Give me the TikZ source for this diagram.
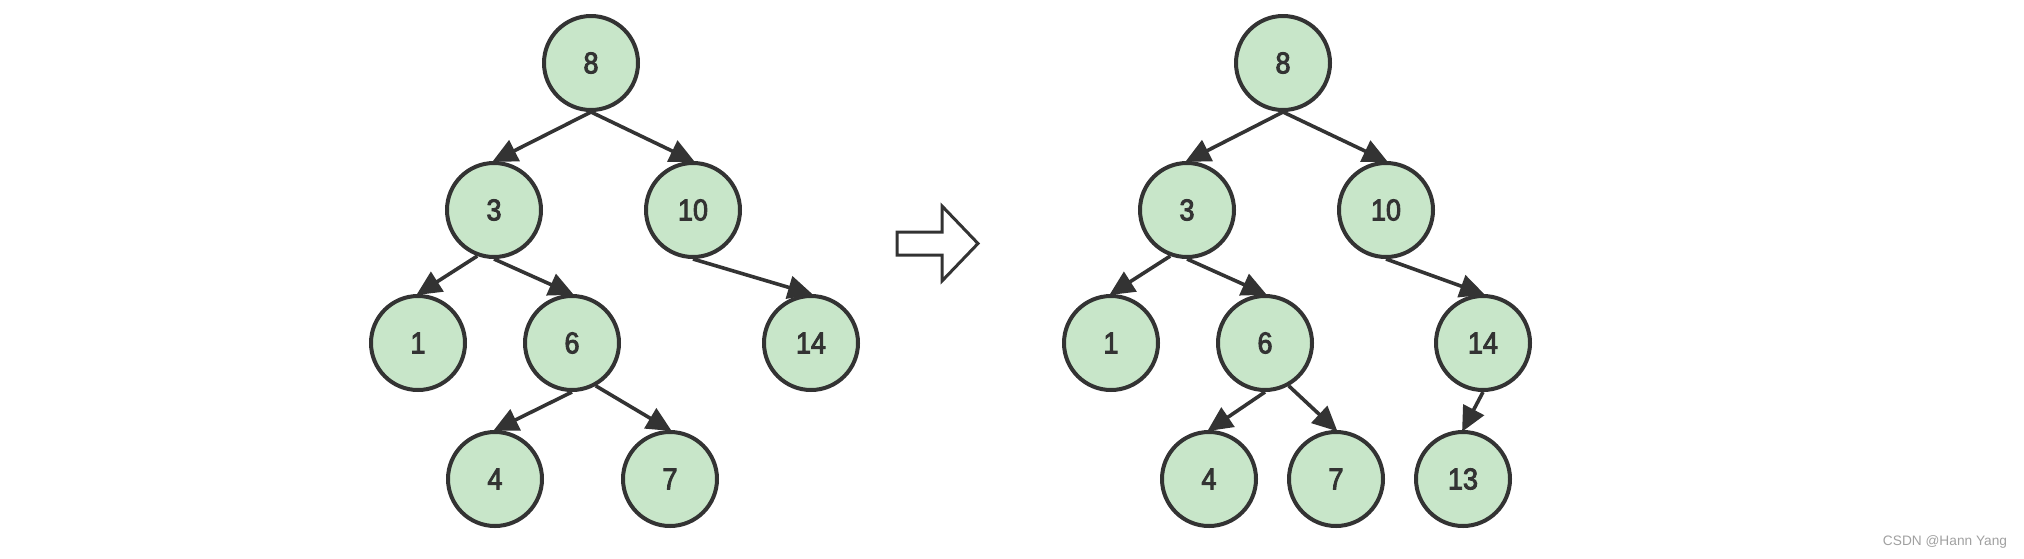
\documentclass[tikz,border=0pt]{standalone}
\usepackage{fontspec}
\setmainfont{Liberation Sans}
\newfontfamily\numfont[FakeStretch=0.9,FakeBold=3]{Liberation Sans}
\usetikzlibrary{arrows.meta}
\definecolor{nodefill}{HTML}{C8E6C9}
\definecolor{ink}{HTML}{333333}
\definecolor{wmark}{HTML}{A0A0A0}
\tikzset{
  tnode/.style={circle, draw=ink, fill=nodefill, line width=2pt, minimum size=47pt,
    inner sep=0pt, text=ink, font=\numfont\fontsize{15pt}{15pt}\selectfont},
  tedge/.style={draw=ink, line width=1.8pt, -{Triangle[length=12.5pt,width=11.5pt]}, shorten >=-1pt},
  bigarrow/.style={draw=ink, line width=1.5pt, fill=white, line join=miter}
}
\begin{document}
\begin{tikzpicture}[x=0.5pt,y=-0.5pt]
\useasboundingbox (0,0) rectangle (2024,558);
% left tree
\node[tnode] (La) at (591,63) {8};
\node[tnode] (Lb) at (494,210) {3};
\node[tnode] (Lc) at (693,210) {10};
\node[tnode] (Ld) at (418,343) {1};
\node[tnode] (Le) at (572,343) {6};
\node[tnode] (Lf) at (811,343) {14};
\node[tnode] (Lg) at (495,479) {4};
\node[tnode] (Lh) at (670,479) {7};
\draw[tedge] (La.south) -- (Lb.north);
\draw[tedge] (La.south) -- (Lc.north);
\draw[tedge] (Lb.-110) -- (Ld.north);
\draw[tedge] (Lb.south) -- (Le.north);
\draw[tedge] (Lc.south) -- (Lf.north);
\draw[tedge] (Le.south) -- (Lg.north);
\draw[tedge] (Le.-61) -- (Lh.north);
% transform arrow
\coordinate (A) at (897,232);
\draw[bigarrow] (A) -- (942,232) -- (942,206) -- (978,243.5) -- (942,281) -- (942,255) -- (897,255) -- cycle;
% right tree
\node[tnode] (Ra) at (1283,63) {8};
\node[tnode] (Rb) at (1187,210) {3};
\node[tnode] (Rc) at (1386,210) {10};
\node[tnode] (Rd) at (1111,343) {1};
\node[tnode] (Re) at (1265,343) {6};
\node[tnode] (Rf) at (1483,343) {14};
\node[tnode] (Rg) at (1209,479) {4};
\node[tnode] (Rh) at (1336,479) {7};
\node[tnode] (Ri) at (1463,479) {13};
\draw[tedge] (Ra.south) -- (Rb.north);
\draw[tedge] (Ra.south) -- (Rc.north);
\draw[tedge] (Rb.-110) -- (Rd.north);
\draw[tedge] (Rb.south) -- (Re.north);
\draw[tedge] (Rc.south) -- (Rf.north);
\draw[tedge] (Re.south) -- (Rg.north);
\draw[tedge] (Re.-61) -- (Rh.north);
\draw[tedge] (Rf.south) -- (Ri.north);
% watermark
\node[text=wmark, font=\fontsize{6.85pt}{8pt}\selectfont, inner sep=0pt] (W) at (1945,542) {CSDN @Hann Yang};
\end{tikzpicture}
\end{document}
